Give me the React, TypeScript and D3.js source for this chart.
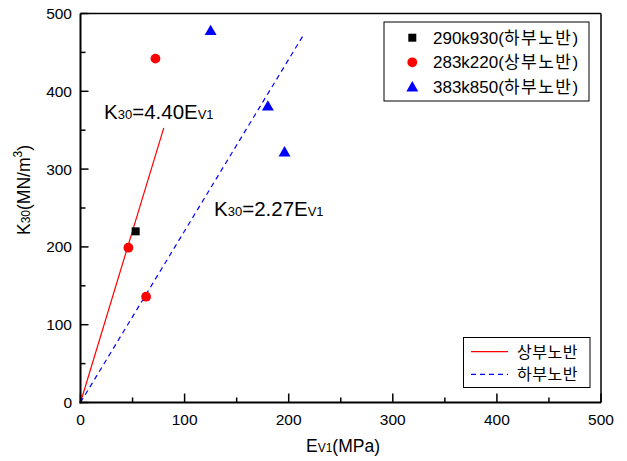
import React from "react";
import * as d3 from "d3";

const xTicks = [0, 100, 200, 300, 400, 500];
const yTicks = [0, 100, 200, 300, 400, 500];
const minorTicks = [50, 150, 250, 350, 450];

const seriesCodes = ["290k930", "283k220", "383k850"];
const seriesLayers = ["하부노반", "상부노반", "하부노반"];
const s290x = [53];
const s290y = [220];
const s283x = [72, 46, 63];
const s283y = [442, 199, 136];
const s383x = [125, 180, 196];
const s383y = [478, 381, 322];

const fitNames = ["상부노반", "하부노반"];
const fitUpperX = [0, 80];
const fitUpperY = [0, 353];
const fitLowerX = [0, 214];
const fitLowerY = [0, 472];

const W = 627, H = 461;
const L = 80.5, R = 601, T = 13.5, B = 402.5;
const FONT = "'Liberation Sans', Arial, 'Noto Sans CJK KR', sans-serif";

export default function App() {
  const x = d3.scaleLinear().domain([0, 500]).range([L, R]);
  const y = d3.scaleLinear().domain([0, 500]).range([B, T]);
  const line = d3.line<[number, number]>().x((d) => x(d[0])).y((d) => y(d[1]));
  const upper = fitUpperX.map((v, i) => [v, fitUpperY[i]] as [number, number]);
  const lower = fitLowerX.map((v, i) => [v, fitLowerY[i]] as [number, number]);
  const tri = d3.symbol().type(d3.symbolTriangle).size(62)();

  return (
    <svg width={W} height={H} style={{ position: "absolute", left: 0, top: 0, background: "#fff" }} fontFamily={FONT}>
      <rect x={0} y={0} width={W} height={H} fill="#fff" />
      {/* fit lines */}
      <path d={line(upper) || ""} stroke="#ff0000" strokeWidth={1.2} fill="none" />
      <path d={line(lower) || ""} stroke="#0000ff" strokeWidth={1.2} fill="none" strokeDasharray="5,4" />

      {/* frame */}
      <line x1={L} x2={R} y1={T} y2={T} stroke="#000" strokeWidth={1.5} />
      <line x1={R} x2={R} y1={T} y2={B} stroke="#000" strokeWidth={1.5} />
      <line x1={L} x2={L} y1={T} y2={B + 1} stroke="#000" strokeWidth={2} />
      <line x1={L - 1} x2={R} y1={B} y2={B} stroke="#000" strokeWidth={2} />

      {/* ticks */}
      {xTicks.map((t) => (
        <g key={"x" + t}>
          <line x1={x(t)} x2={x(t)} y1={B} y2={B - 9} stroke="#000" strokeWidth={1.5} />
          <text x={x(t)} y={424.5} textAnchor="middle" fontSize={15.5}>{t}</text>
        </g>
      ))}
      {minorTicks.map((t) => (
        <line key={"xm" + t} x1={x(t)} x2={x(t)} y1={B} y2={B - 5} stroke="#000" strokeWidth={1.5} />
      ))}
      {yTicks.map((t) => (
        <g key={"y" + t}>
          <line x1={L} x2={L + 8} y1={y(t)} y2={y(t)} stroke="#000" strokeWidth={1.5} />
          <text x={72} y={y(t) + 5.5} textAnchor="end" fontSize={15.5}>{t}</text>
        </g>
      ))}
      {minorTicks.map((t) => (
        <line key={"ym" + t} x1={L} x2={L + 5} y1={y(t)} y2={y(t)} stroke="#000" strokeWidth={1.5} />
      ))}

      {/* axis titles */}
      <text x={343} y={452} textAnchor="middle" fontSize={17.5}>
        E<tspan fontSize={12}>V1</tspan>(MPa)
      </text>
      <text transform={`translate(30,${190}) rotate(-90)`} textAnchor="middle" fontSize={17.5}>
        K<tspan fontSize={12}>30</tspan>(MN/m<tspan fontSize={12} dy={-8}>3</tspan><tspan dy={8}>)</tspan>
      </text>

      {/* points */}
      {s290x.map((v, i) => (
        <rect key={"a" + i} x={x(v) - 4} y={y(s290y[i]) - 4} width={8} height={8} fill="#000" />
      ))}
      {s283x.map((v, i) => (
        <circle key={"b" + i} cx={x(v)} cy={y(s283y[i])} r={4.9} fill="#ff0000" />
      ))}
      {s383x.map((v, i) => (
        <path key={"c" + i} d={tri || ""} transform={`translate(${x(v)},${y(s383y[i]) + 1})`} fill="#0000ff" />
      ))}

      {/* annotations */}
      <text x={104} y={119} fontSize={20.5}>
        K<tspan fontSize={13}>30</tspan>=4.40E<tspan fontSize={13}>V1</tspan>
      </text>
      <text x={214} y={216} fontSize={20.5}>
        K<tspan fontSize={13}>30</tspan>=2.27E<tspan fontSize={13}>V1</tspan>
      </text>

      {/* legend 1 */}
      <rect x={384} y={22} width={205} height={79} fill="#fff" stroke="#000" strokeWidth={1} />
      <rect x={412.3 - 4} y={37.7 - 4} width={8} height={8} fill="#000" />
      <circle cx={412.3} cy={62.3} r={4.9} fill="#ff0000" />
      <path d={tri || ""} transform={`translate(412.3,88)`} fill="#0000ff" />
      {seriesCodes.map((n, i) => (
        <text key={n} x={433} y={[37.7, 62.3, 87.3][i] + 6} fontSize={17}>
          {n}(<tspan letterSpacing={1.5}>{seriesLayers[i]}</tspan>)
        </text>
      ))}

      {/* legend 2 */}
      <rect x={463.5} y={337.5} width={126.5} height={50} fill="#fff" stroke="#000" strokeWidth={1} />
      <line x1={471} x2={508} y1={351.7} y2={351.7} stroke="#ff0000" strokeWidth={1.2} />
      <line x1={471} x2={508} y1={374.3} y2={374.3} stroke="#0000ff" strokeWidth={1.2} strokeDasharray="5,4" />
      {fitNames.map((n, i) => (
        <text key={n} x={517} y={[351.7, 374.3][i] + 6} fontSize={16} letterSpacing={0.5}>{n}</text>
      ))}
    </svg>
  );
}
